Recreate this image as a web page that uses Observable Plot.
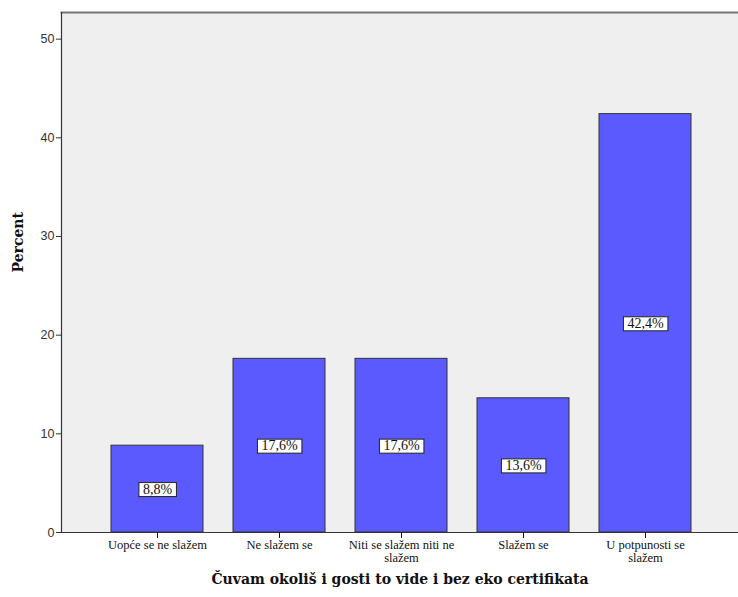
<!DOCTYPE html>
<html>
<head>
<meta charset="utf-8">
<script src="https://cdn.jsdelivr.net/npm/d3@7"></script>
<script src="https://cdn.jsdelivr.net/npm/@observablehq/plot@0.6"></script>
<style>
  body { margin: 0; background: #fff; }
  svg g.lbl text { font-family: "Liberation Serif", serif !important; font-size: 14px !important; }
  svg g.xax text { font-family: "Liberation Serif", serif !important; font-size: 12.5px !important; }
  svg g.yax text { font-family: "Liberation Sans", Arial, sans-serif !important; font-size: 12.5px !important; }
  svg g.ttl text { font-family: "DejaVu Serif", serif !important; font-weight: bold; font-size: 14px !important; }
</style>
</head>
<body>
<div id="chart"></div>
<script>
const categories = ["Uopće se ne slažem", "Ne slažem se", "Niti se slažem niti ne slažem", "Slažem se", "U potpunosti se slažem"];
const tickLabels = ["Uopće se ne slažem", "Ne slažem se", "Niti se slažem niti ne\nslažem", "Slažem se", "U potpunosti se\nslažem"];
const percents = [8.8, 17.6, 17.6, 13.6, 42.4];
const valueLabels = ["8,8%", "17,6%", "17,6%", "13,6%", "42,4%"];
const yTicks = [0, 10, 20, 30, 40, 50];
const xTitle = "Čuvam okoliš i gosti to vide i bez eko certifikata";
const yTitle = "Percent";

const data = categories.map((c, i) => ({cat: c, value: percents[i], label: valueLabels[i]}));
const tickMap = new Map(categories.map((c, i) => [c, tickLabels[i]]));

const chart = Plot.plot({
  width: 738,
  height: 597,
  marginLeft: 61,
  marginRight: 0,
  marginTop: 12,
  marginBottom: 65,
  style: {background: "#fff"},
  x: {type: "band", domain: categories, range: [94.75, 707.25], paddingInner: 0.25, paddingOuter: 0.125},
  y: {domain: [0, 52.7]},
  marks: [
    Plot.frame({fill: "#efefef", stroke: "none"}),
    Plot.barY(data, {x: "cat", y: "value", fill: "#5a5aff", stroke: "#333", strokeWidth: 1}),
    Plot.frame({anchor: "top", stroke: "#777", strokeWidth: 2}),
    Plot.frame({anchor: "left", stroke: "#333", strokeWidth: 1.2}),
    Plot.frame({anchor: "bottom", stroke: "#333", strokeWidth: 1.2}),
    Plot.axisY({ticks: yTicks, tickSize: 5, tickPadding: 2, label: null, fontSize: 12.5, fontFamily: "Liberation Sans", color: "#333", stroke: "#333", className: "yax"}),
    Plot.axisX({tickSize: 6, tickPadding: 2, label: null, fontSize: 12.5, fontFamily: "Liberation Serif", tickFormat: d => tickMap.get(d), lineHeight: 1.0, color: "#111", className: "xax"}),
    Plot.text(data, {x: "cat", y: d => d.value / 2, text: "label", fontSize: 14, fontFamily: "Liberation Serif", fill: "#111", className: "lbl"}),
    Plot.text([xTitle], {frameAnchor: "bottom", dy: 51, text: d => d, fontSize: 14, fontWeight: "bold", fontFamily: "DejaVu Serif", fill: "#111", className: "ttl"}),
    Plot.text([yTitle], {frameAnchor: "left", dx: -43, rotate: -90, text: d => d, fontSize: 14, fontWeight: "bold", fontFamily: "DejaVu Serif", fill: "#111", className: "ttl"})
  ]
});
document.getElementById("chart").appendChild(chart);

// white bordered boxes behind value labels
d3.select(chart).selectAll("g.lbl text").each(function() {
  const b = this.getBBox();
  d3.select(this.parentNode).insert("rect", () => this)
    .attr("x", b.x - 4).attr("y", b.y + 1)
    .attr("width", b.width + 8).attr("height", b.height - 1)
    .attr("fill", "#fff").attr("stroke", "#222").attr("stroke-width", 1)
    .attr("transform", this.getAttribute("transform"));
});
</script>
</body>
</html>
